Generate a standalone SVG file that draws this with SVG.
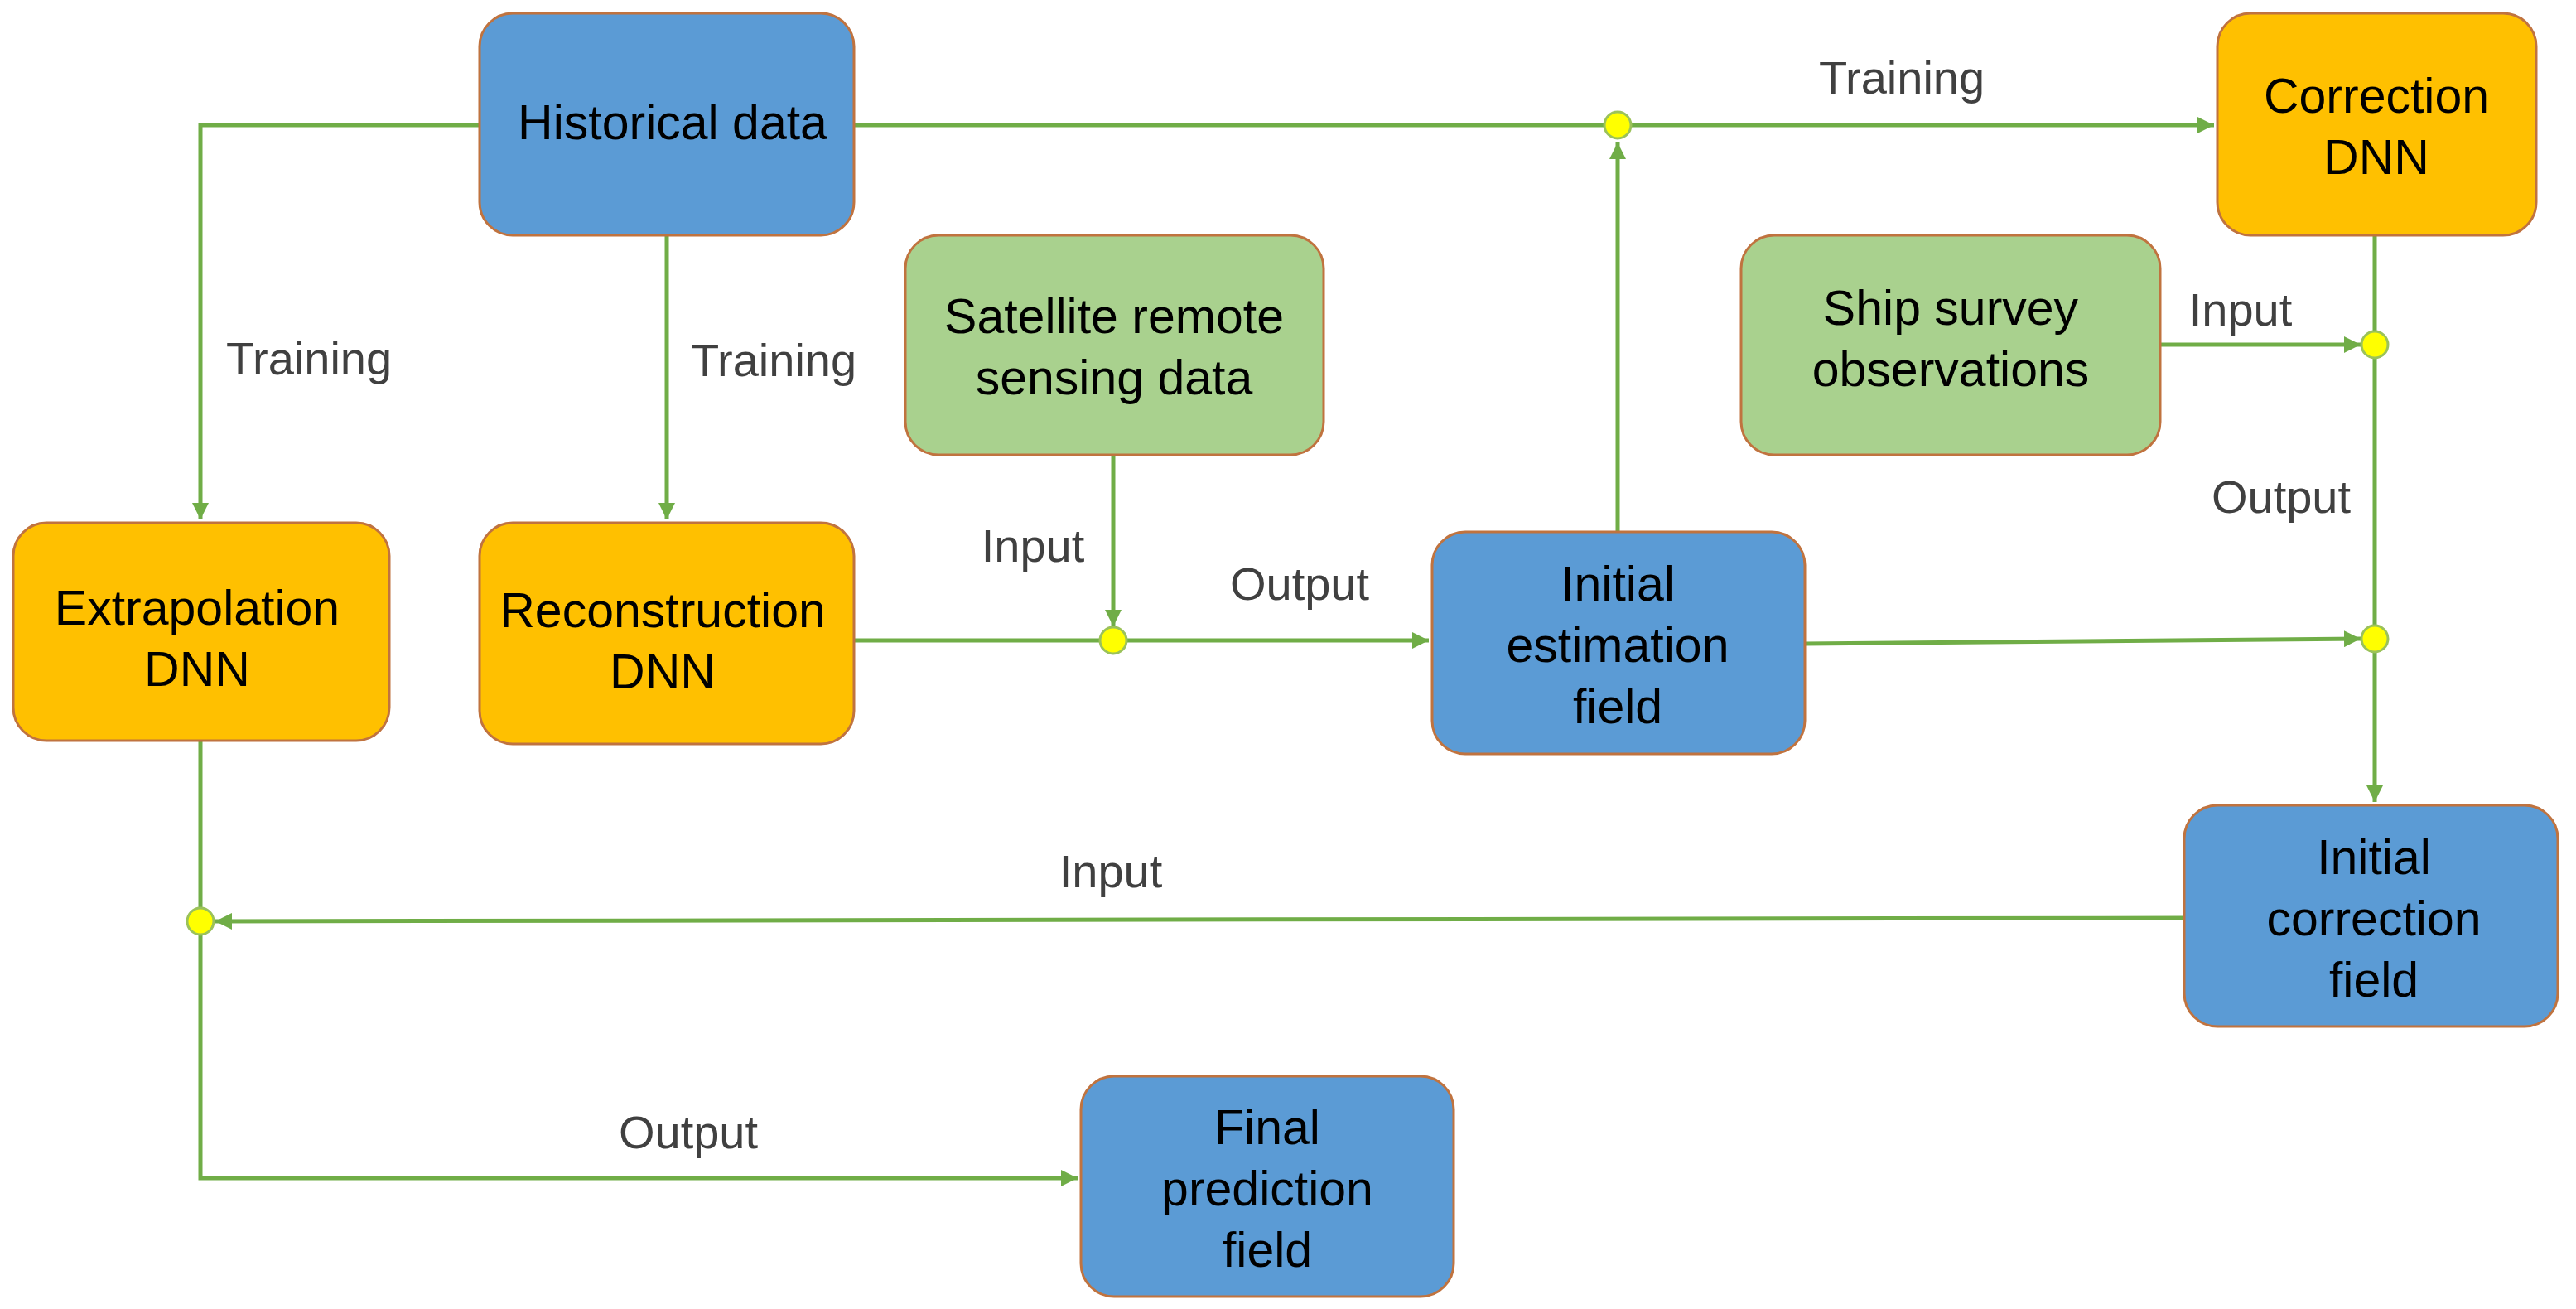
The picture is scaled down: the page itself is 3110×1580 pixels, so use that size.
<svg xmlns="http://www.w3.org/2000/svg" width="3110" height="1580" viewBox="0 0 3110 1580">
<style>
.n{stroke:#C0733F;stroke-width:3}
.b{fill:#5B9BD5}.o{fill:#FFC000}.g{fill:#A9D18E}
.t{font-family:"Liberation Sans",Arial,sans-serif;font-size:59px;fill:#000;text-anchor:middle}
.l{font-family:"Liberation Sans",Arial,sans-serif;font-size:56px;fill:#404040;text-anchor:middle}
.c{stroke:#70AD47;stroke-width:5;fill:none}
.d{fill:#FFFF00;stroke:#9BC25A;stroke-width:3}
</style>
<defs><marker id="a" viewBox="0 0 10 10" refX="10" refY="5" markerWidth="4" markerHeight="4" orient="auto" markerUnits="strokeWidth"><path d="M0,0L10,5L0,10z" fill="#70AD47"/></marker></defs>
<rect width="3110" height="1580" fill="#fff"/>
<g id="connectors">
<path class="c" d="M579,151H242V627" marker-end="url(#a)"/>
<path class="c" d="M805,284V627" marker-end="url(#a)"/>
<path class="c" d="M1031,151H2673" marker-end="url(#a)"/>
<path class="c" d="M1953,642V172" marker-end="url(#a)"/>
<path class="c" d="M1031,773H1725" marker-end="url(#a)"/>
<path class="c" d="M1344,549V756" marker-end="url(#a)"/>
<path class="c" d="M2179,777L2850,771" marker-end="url(#a)"/>
<path class="c" d="M2867,284V968" marker-end="url(#a)"/>
<path class="c" d="M2608,416H2850" marker-end="url(#a)"/>
<path class="c" d="M2637,1108L260,1112" marker-end="url(#a)"/>
<path class="c" d="M242,894V1422H1301" marker-end="url(#a)"/>
<circle class="d" cx="1953" cy="151" r="16"/>
<circle class="d" cx="1344" cy="773" r="16"/>
<circle class="d" cx="2867" cy="416" r="16"/>
<circle class="d" cx="2867" cy="771" r="16"/>
<circle class="d" cx="242" cy="1112" r="16"/>
<text class="l" x="2296" y="113">Training</text>
<text class="l" x="373" y="452">Training</text>
<text class="l" x="934" y="454">Training</text>
<text class="l" x="2705" y="393">Input</text>
<text class="l" x="2754" y="619">Output</text>
<text class="l" x="1247" y="678">Input</text>
<text class="l" x="1569" y="724">Output</text>
<text class="l" x="1341" y="1071">Input</text>
<text class="l" x="831" y="1386">Output</text>
</g>
<g id="historical"><rect class="n b" x="579" y="16" width="452" height="268" rx="40"/><text class="t" x="812" y="168">Historical data</text></g>
<g id="correctionDNN"><rect class="n o" x="2677" y="16" width="385" height="268" rx="40"/><text class="t" x="2869" y="136">Correction</text><text class="t" x="2869" y="210">DNN</text></g>
<g id="satellite"><rect class="n g" x="1093" y="284" width="505" height="265" rx="40"/><text class="t" x="1345" y="402">Satellite remote</text><text class="t" x="1345" y="476">sensing data</text></g>
<g id="ship"><rect class="n g" x="2102" y="284" width="506" height="265" rx="40"/><text class="t" x="2355" y="392">Ship survey</text><text class="t" x="2355" y="466">observations</text></g>
<g id="extrapolation"><rect class="n o" x="16" y="631" width="454" height="263" rx="40"/><text class="t" x="238" y="754">Extrapolation</text><text class="t" x="238" y="828">DNN</text></g>
<g id="reconstruction"><rect class="n o" x="579" y="631" width="452" height="267" rx="40"/><text class="t" x="800" y="757">Reconstruction</text><text class="t" x="800" y="831">DNN</text></g>
<g id="initialEstimation"><rect class="n b" x="1729" y="642" width="450" height="268" rx="40"/><text class="t" x="1953" y="725">Initial</text><text class="t" x="1953" y="799">estimation</text><text class="t" x="1953" y="873">field</text></g>
<g id="initialCorrection"><rect class="n b" x="2637" y="972" width="451" height="267" rx="40"/><text class="t" x="2866" y="1055">Initial</text><text class="t" x="2866" y="1129">correction</text><text class="t" x="2866" y="1203">field</text></g>
<g id="final"><rect class="n b" x="1305" y="1299" width="450" height="266" rx="40"/><text class="t" x="1530" y="1381">Final</text><text class="t" x="1530" y="1455">prediction</text><text class="t" x="1530" y="1529">field</text></g>
</svg>
